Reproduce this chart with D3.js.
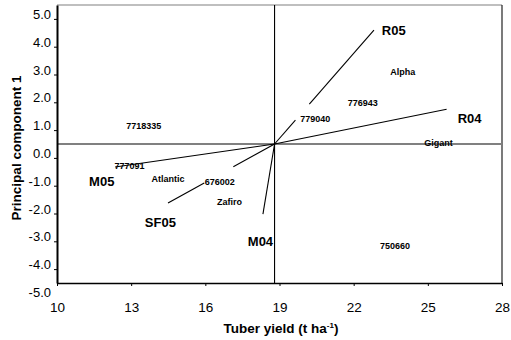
<!DOCTYPE html>
<html><head><meta charset="utf-8">
<script src="https://cdn.jsdelivr.net/npm/d3@7"></script>
<style>body{margin:0;background:#fff}svg{display:block}</style>
</head><body><svg id="c" width="511" height="340"></svg>
<script>
// ---- data ----
const xTicks = [10, 13, 16, 19, 22, 25, 28];
const yTickLabels = [5, 4, 3, 2, 1, 0, -1, -2, -3, -4, -5];
const yTickMarks = [4.5, 3.5, 2.5, 1.5, 0.5, -0.5, -1.5, -2.5, -3.5, -4.5];
const meanYield = 18.8;

const genotypes = ["7718335", "777091", "Atlantic", "676002", "Zafiro", "779040", "776943", "Alpha", "Gigant", "750660"];
const genoX = [13.51, 12.93, 14.49, 16.58, 16.98, 20.45, 22.37, 23.99, 25.43, 23.67];
const genoY = [0.65, -0.79, -1.25, -1.37, -2.08, 0.90, 1.49, 2.60, 0.05, -3.67];

const envs = ["R05", "R04", "M05", "SF05", "M04"];
const envEndX = [22.82, 25.76, 12.35, 14.49, 18.33];
const envEndY = [4.10, 1.25, -0.83, -2.12, -2.52];
const envLabelX = [23.62, 26.69, 11.81, 14.18, 18.23];
const envLabelY = [4.08, 0.92, -1.35, -2.81, -3.49];
const envGapFrom = [0.21, null, null, 0.387, null];
const envGapTo = [0.35, null, null, 0.66, null];

// ---- chart ----
const svg = d3.select("#c");
const font = "'Liberation Sans', Arial, sans-serif";
const x = d3.scaleLinear().domain([10, 28]).range([57, 502]);
const y = d3.scaleLinear().domain([-5, 5]).range([283, 5]);

svg.append("rect").attr("width", 511).attr("height", 340).attr("fill", "#fff");

// frame top / right
svg.append("line").attr("x1", x(10)).attr("x2", x(28)).attr("y1", y(5)).attr("y2", y(5))
  .attr("stroke", "#808080").attr("stroke-width", 1.2);
svg.append("line").attr("x1", x(28)).attr("x2", x(28)).attr("y1", y(5)).attr("y2", y(-5))
  .attr("stroke", "#222").attr("stroke-width", 1.2);

// reference lines
svg.append("line").attr("x1", x(10)).attr("x2", x(28)).attr("y1", y(0)).attr("y2", y(0))
  .attr("stroke", "#808080").attr("stroke-width", 2);
svg.append("line").attr("x1", x(meanYield)).attr("x2", x(meanYield)).attr("y1", y(5)).attr("y2", y(-5))
  .attr("stroke", "#000").attr("stroke-width", 1.1);

// vectors
const vg = svg.append("g").attr("stroke", "#000").attr("stroke-width", 1.1);
envs.forEach((e, i) => {
  const x0 = meanYield, y0 = 0, x1 = envEndX[i], y1 = envEndY[i];
  const pt = t => [x(x0 + (x1 - x0) * t), y(y0 + (y1 - y0) * t)];
  const segs = envGapFrom[i] == null ? [[0, 1]] : [[0, envGapFrom[i]], [envGapTo[i], 1]];
  segs.forEach(s => {
    const a = pt(s[0]), b = pt(s[1]);
    vg.append("line").attr("x1", a[0]).attr("y1", a[1]).attr("x2", b[0]).attr("y2", b[1]);
  });
});

// axes
const ax = svg.append("g").attr("transform", `translate(0,${y(-5)})`)
  .call(d3.axisBottom(x).tickValues(xTicks).tickSize(3).tickSizeOuter(0).tickPadding(8));
ax.select(".domain").attr("stroke", "#000").attr("stroke-width", 1.6);
ax.selectAll(".tick line").attr("stroke", "#000");
ax.selectAll("text").attr("font-family", font).attr("font-size", 13.5).attr("fill", "#000")
  .attr("dy", null).attr("y", 29).attr("dominant-baseline", "auto");

const ayMarks = svg.append("g").attr("transform", `translate(${x(10)},0)`)
  .call(d3.axisLeft(y).tickValues(yTickMarks).tickSize(3).tickSizeOuter(0).tickFormat(""));
ayMarks.select(".domain").attr("stroke", "#000").attr("stroke-width", 2);
ayMarks.selectAll(".tick line").attr("stroke", "#000");

const ayLab = svg.append("g").attr("transform", `translate(${x(10)},0)`)
  .call(d3.axisLeft(y).tickValues(yTickLabels).tickSize(0).tickPadding(6).tickFormat(d => d.toFixed(1)));
ayLab.select(".domain").remove();
ayLab.selectAll("text").attr("font-family", font).attr("font-size", 13).attr("fill", "#000")
  .attr("dy", null).attr("y", 13.5);

// genotype labels
svg.append("g").selectAll("text").data(genotypes).join("text")
  .attr("x", (d, i) => x(genoX[i])).attr("y", (d, i) => y(genoY[i]))
  .attr("dy", "0.35em").attr("text-anchor", "middle")
  .attr("font-family", font).attr("font-weight", "bold").attr("font-size", 9)
  .text(d => d);

// environment labels
svg.append("g").selectAll("text").data(envs).join("text")
  .attr("x", (d, i) => x(envLabelX[i])).attr("y", (d, i) => y(envLabelY[i]))
  .attr("dy", "0.35em").attr("text-anchor", "middle")
  .attr("font-family", font).attr("font-weight", "bold").attr("font-size", 13)
  .text(d => d);

// axis titles
const xt = svg.append("text").attr("x", 281).attr("y", 333).attr("text-anchor", "middle")
  .attr("font-family", font).attr("font-weight", "bold").attr("font-size", 13.5);
xt.append("tspan").text("Tuber yield (t ha");
xt.append("tspan").attr("font-size", 8).attr("dy", -5).text("-1");
xt.append("tspan").attr("dy", 5).text(")");

svg.append("text").attr("transform", "translate(21,148) rotate(-90)").attr("text-anchor", "middle")
  .attr("font-family", font).attr("font-weight", "bold").attr("font-size", 13.5)
  .text("Principal component 1");
</script></body></html>
